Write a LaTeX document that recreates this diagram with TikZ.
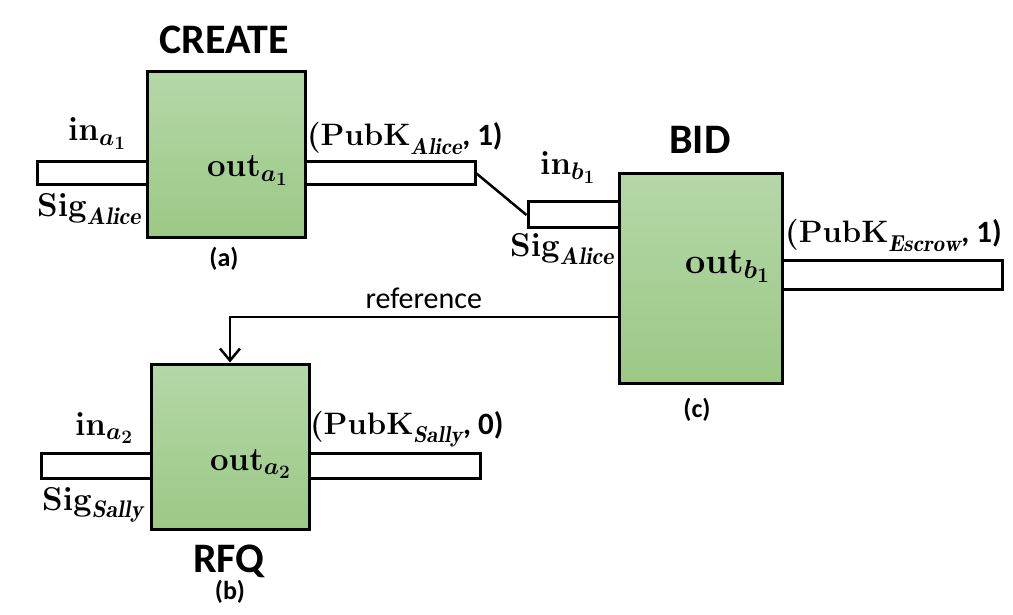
\RequirePackage{fix-cm}
\documentclass[tikz,border=0pt]{standalone}
\usepackage{fontspec}
\newfontfamily\carlito{Carlito}
\usetikzlibrary{arrows.meta}
\DeclareMathSizes{33}{33}{24}{19}
\DeclareMathSizes{31}{31}{23}{18}
\DeclareMathSizes{36}{36}{26}{21}
\definecolor{gtop}{HTML}{B5D7A8}
\definecolor{gbot}{HTML}{9BC985}
\tikzset{
  blk/.style={draw=black, line width=3pt, top color=gtop, bottom color=gbot, inner sep=0pt},
  bar/.style={draw=black, line width=3pt, fill=white, inner sep=0pt},
  title/.style={font=\carlito\bfseries\fontsize{42}{46}\selectfont, inner sep=0pt},
  tag/.style={font=\carlito\bfseries\fontsize{26}{30}\selectfont, inner sep=0pt},
  lab/.style={font=\fontsize{33}{38}\selectfont\boldmath, inner sep=0pt, anchor=base west},
  biglab/.style={font=\fontsize{36}{40}\selectfont\boldmath, inner sep=0pt, anchor=base west},
  pk/.style={font=\fontsize{31}{36}\selectfont\boldmath, inner sep=0pt, anchor=base west},
  conn/.style={draw=black, line width=2.5pt},
}
\begin{document}
\begin{tikzpicture}[x=1pt,y=-1pt]
\useasboundingbox (0,0) rectangle (1013,615);
% bars
\node[bar, minimum width=110pt, minimum height=23pt] (Ain) at (92,173.5) {};
\node[bar, minimum width=170pt, minimum height=23pt] (Aout) at (390,173.5) {};
\node[bar, minimum width=91pt, minimum height=26pt] (Cin) at (573.5,215) {};
\node[bar, minimum width=220pt, minimum height=29pt] (Cout) at (892,274.5) {};
\node[bar, minimum width=110pt, minimum height=25pt] (Bin) at (96,465.5) {};
\node[bar, minimum width=171pt, minimum height=25pt] (Bout) at (394.5,465.5) {};
% boxes
\node[blk, minimum width=158pt, minimum height=166pt] (A) at (226,155) {};
\node[blk, minimum width=163pt, minimum height=209pt] (C) at (700.5,278.5) {};
\node[blk, minimum width=158pt, minimum height=165pt] (B) at (230,446.5) {};
% titles
\node[title] (tA) at (224,40) {CREATE};
\node[title] (tC) at (700,140) {BID};
\node[title] (tB) at (229,561) {RFQ};
\node[tag] (ga) at (224,259) {(a)};
\node[tag] (gc) at (697,410) {(c)};
\node[tag] (gb) at (230,592) {(b)};
% labels
\node[lab] (la1) at (68,141) {$\mathbf{in}_{a_1}$};
\node[lab] (la2) at (37,217) {$\mathbf{Sig}_{\mathit{Alice}}$};
\node[lab] (la3) at (207,177) {$\mathbf{out}_{a_1}$};
\node[pk] (la4) at (307,146) {$\mathbf{(PubK}_{\mathit{Alice}}${\carlito\bfseries, 1)}};
\node[lab] (lc1) at (540,175) {$\mathbf{in}_{b_1}$};
\node[lab] (lc2) at (510,257) {$\mathbf{Sig}_{\mathit{Alice}}$};
\node[biglab] (lc3) at (685,273) {$\mathbf{out}_{b_1}$};
\node[pk] (lc4) at (785,243) {$\mathbf{(PubK}_{\mathit{Escrow}}${\carlito\bfseries, 1)}};
\node[lab] (lb1) at (75,435) {$\mathbf{in}_{a_2}$};
\node[lab] (lb2) at (42,510) {$\mathbf{Sig}_{\mathit{Sally}}$};
\node[lab] (lb3) at (210,470) {$\mathbf{out}_{a_2}$};
\node[pk] (lb4) at (310,434) {$\mathbf{(PubK}_{\mathit{Sally}}${\carlito\bfseries, 0)}};
% connectors
\draw[conn] (Aout.east) -- (Cin.west);
\draw[conn, -{Straight Barb[length=12pt,width=20pt]}] ([yshift=-38.5pt]C.west) -| (B.north)
  node[pos=0.25, above=7pt, font=\carlito\fontsize{30}{34}\selectfont, inner sep=0pt] (ref) {reference};
\end{tikzpicture}
\end{document}
